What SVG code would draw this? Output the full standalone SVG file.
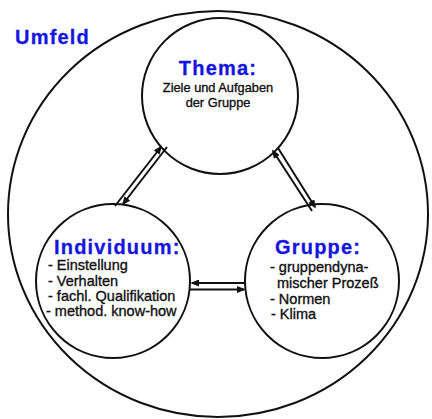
<svg xmlns="http://www.w3.org/2000/svg" width="432" height="419" viewBox="0 0 432 419">
<style>
.c{fill:#fff;stroke:#111;stroke-width:2}
.h{font-family:"Liberation Sans",Arial,sans-serif;font-weight:bold;font-size:20px;fill:#1515e0;stroke:#1515e0;stroke-width:0.3;letter-spacing:1.2px}
.t{font-family:"Liberation Sans",Arial,sans-serif;font-size:14.5px;fill:#111;stroke:#111;stroke-width:0.35}
.s{font-size:12.8px}
.l{stroke:#111;stroke-width:2;fill:none;marker-end:url(#a)}
</style>
<defs>
<marker id="a" viewBox="0 0 10 8" refX="8" refY="4" markerWidth="9" markerHeight="7" orient="auto" markerUnits="userSpaceOnUse">
<path d="M0,0 L10,4 L0,8 z" fill="#111"/>
</marker>
</defs>
<rect width="432" height="419" fill="#fff"/>
<g id="umfeld">
<ellipse class="c" cx="218" cy="214" rx="210" ry="203"/>
<text class="h" x="15" y="44">Umfeld</text>
</g>
<g id="thema">
<circle class="c" cx="220" cy="96" r="78"/>
<text class="h" x="218" y="75" text-anchor="middle">Thema:</text>
<text class="t s" x="218" y="92" text-anchor="middle">Ziele und Aufgaben</text>
<text class="t s" x="218" y="107" text-anchor="middle">der Gruppe</text>
</g>
<g id="individuum">
<circle class="c" cx="113" cy="281" r="77"/>
<text class="h" x="54" y="254">Individuum:</text>
<text class="t" x="48" y="270">-  Einstellung</text>
<text class="t" x="48" y="285.5">-  Verhalten</text>
<text class="t" x="48" y="301">-  fachl.  Qualifikation</text>
<text class="t" x="46" y="316">- method. know-how</text>
</g>
<g id="gruppe">
<circle class="c" cx="322" cy="281" r="77"/>
<text class="h" x="275" y="254">Gruppe:</text>
<text class="t" x="270" y="272">- gruppendyna-</text>
<text class="t" x="277" y="288">mischer Prozeß</text>
<text class="t" x="270" y="304">- Normen</text>
<text class="t" x="271" y="319">-  Klima</text>
</g>
<g id="connectors">
<line class="l" x1="115" y1="206" x2="161" y2="147"/>
<line class="l" x1="167" y1="147" x2="123" y2="204"/>
<line class="l" x1="312" y1="211" x2="273" y2="151"/>
<line class="l" x1="278" y1="148" x2="315" y2="207"/>
<line class="l" x1="246" y1="283" x2="192" y2="283"/>
<line class="l" x1="190" y1="289.5" x2="244" y2="289.5"/>
</g>
</svg>
